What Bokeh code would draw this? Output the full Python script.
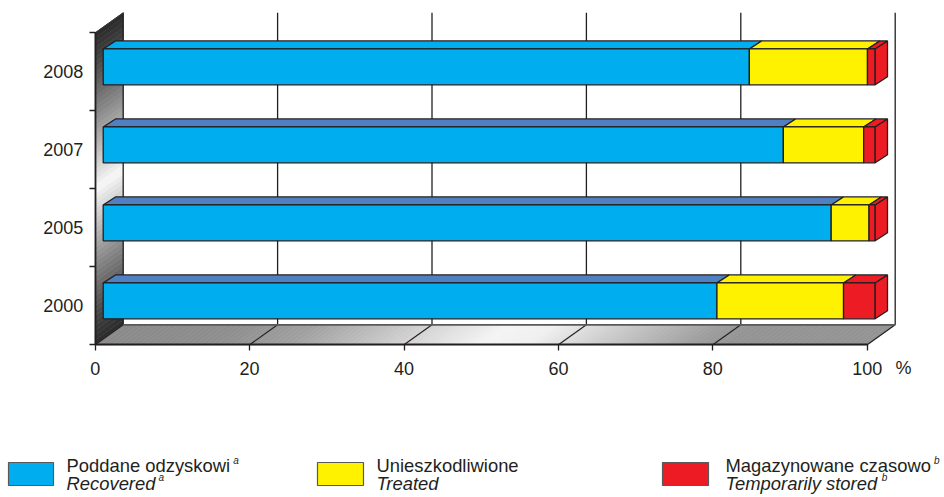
import numpy as np
from bokeh.plotting import figure
from bokeh.models import Range1d, LinearAxis, FixedTicker
from bokeh.core.properties import value
from bokeh.embed import file_html
from bokeh.resources import INLINE

# ---------------- data ----------------
years = ["2000", "2005", "2007", "2008"]
recovered = [79.5, 94.3, 88.1, 83.7]
treated = [16.4, 4.9, 10.4, 15.3]
stored = [4.1, 0.8, 1.5, 1.0]
x_ticks = [0, 20, 40, 60, 80, 100]
unit_label = "%"
legend_pl = ["Poddane odzyskowi", "Unieszkodliwione", "Magazynowane czasowo"]
legend_en = ["Recovered", "Treated", "Temporarily stored"]
legend_notes = ["a", "", "b"]

# ---------------- styles ----------------
front_colors = ["#00AEEF", "#FFF200", "#ED1C24"]
top_blue = ["#4F80C1", "#4F80C1", "#4F80C1", "#00AEEF"]
INK = "#231F20"
FONT_NAME = "Liberation Sans"
FONT = value(FONT_NAME)

W, H = 944, 497
S = 7.72      # px per percent
U = 78.0      # px per category band
X0 = 94.7     # px of x=0 from left of figure
Y0 = 344.3    # px of y=0 from top of figure
TXT_K = 0.42  # empirical baseline correction (fraction of font size)


def X(rx):
    return (rx - X0) / S


def Y(ry):
    return (Y0 - ry) / U


def YT(ry, size):
    # baseline position for text glyphs
    return Y(ry - TXT_K * size)


DX, DY = 28 / S, 20 / U                 # depth of the box
OX0, OY0 = 8 / S, 5.7 / U               # bar front face depth
OX1, OY1 = OX0 + 12.3 / S, OY0 + 8 / U  # bar back face depth
BAR_C, BAR_H = 0.49, 0.46
NCAT = len(years)

yr_start, yr_end = -(H - Y0) / U, Y0 / U
p = figure(width=W, height=H,
           x_range=Range1d(-X0 / S, (W - X0) / S),
           y_range=Range1d(yr_start, yr_end),
           output_backend="svg", toolbar_location=None,
           x_axis_location=None, y_axis_location=None,
           min_border=0, outline_line_color=None,
           background_fill_color="white", border_fill_color="white")
p.grid.grid_line_color = None
p.extra_y_ranges = {"years": Range1d(yr_start - 0.51, yr_end - 0.51)}


def gray(v):
    g = int(round(max(0, min(1, v)) * 255))
    return "#%02x%02x%02x" % (g, g, g)


# left wall gradient
N = 64
wx, wy, wc = [], [], []
for k in range(N):
    a, b = NCAT * k / N, NCAT * (k + 1) / N
    u = (k + 0.5) / N
    v = 0.17 + 0.80 * (1 - abs(2 * u - 1)) ** 1.2
    wx.append([0, 0, DX, DX])
    wy.append([a, b, b + DY, a + DY])
    wc.append(gray(v))
p.patches(wx, wy, fill_color=wc, line_color=wc, line_width=0.6)

# floor gradient
cp_x = [0, 15, 25, 40, 50, 56, 66, 78, 82, 100]
cp_g = [138, 142, 160, 212, 244, 240, 200, 156, 148, 148]
NF = 140
fx, fy, fc = [], [], []
for k in range(NF):
    a, b = 100 * k / NF, 100 * (k + 1) / NF
    g = np.interp((a + b) / 2, cp_x, cp_g) / 255
    fx.append([a, b, b + DX, a + DX])
    fy.append([0, 0, DY, DY])
    fc.append(gray(g))
p.patches(fx, fy, fill_color=fc, line_color=fc, line_width=0.6)

# back wall grid lines
gx = [t + DX for t in x_ticks]
p.segment(x0=gx, y0=[DY] * len(gx), x1=gx, y1=[NCAT + DY] * len(gx),
          line_color=INK, line_width=1.3)
# floor lines
p.segment(x0=x_ticks, y0=[0] * len(x_ticks), x1=gx, y1=[DY] * len(gx),
          line_color=INK, line_width=1.1)
p.segment(x0=[DX], y0=[DY], x1=[100 + DX], y1=[DY], line_color="#58595B", line_width=1.8)
p.segment(x0=[0], y0=[NCAT], x1=[DX], y1=[NCAT + DY], line_color="#333333", line_width=1.0)

# bars
series = [recovered, treated, stored]
top_x, top_y, top_c = [], [], []
fl, fr, fb, ft, fcol = [], [], [], [], []
sx, sy, sc = [], [], []
for i in range(NCAT):
    yb = i + BAR_C - BAR_H / 2
    yt = i + BAR_C + BAR_H / 2
    cum = 0.0
    for j, ser in enumerate(series):
        x0, x1 = cum, cum + ser[i]
        cum = x1
        top_x.append([x0 + OX0, x1 + OX0, x1 + OX1, x0 + OX1])
        top_y.append([yt + OY0, yt + OY0, yt + OY1, yt + OY1])
        top_c.append(top_blue[i] if j == 0 else front_colors[j])
        fl.append(x0 + OX0); fr.append(x1 + OX0)
        fb.append(yb + OY0); ft.append(yt + OY0)
        fcol.append(front_colors[j])
        if j == len(series) - 1:
            sx.append([x1 + OX0, x1 + OX1, x1 + OX1, x1 + OX0])
            sy.append([yb + OY0, yb + OY1, yt + OY1, yt + OY0])
            sc.append(front_colors[j])

p.patches(top_x, top_y, fill_color=top_c, line_color=INK, line_width=1.3)
p.quad(left=fl, right=fr, bottom=fb, top=ft, fill_color=fcol, line_color=INK, line_width=1.3)
p.patches(sx, sy, fill_color=sc, line_color=INK, line_width=1.3)

# axes
xaxis = LinearAxis(fixed_location=0, bounds=(0, 100),
                   ticker=FixedTicker(ticks=x_ticks, minor_ticks=[]),
                   major_tick_in=0, major_tick_out=6,
                   minor_tick_line_color=None,
                   axis_line_color=INK, axis_line_width=1.8,
                   major_tick_line_color=INK, major_tick_line_width=1.3,
                   major_label_text_font=FONT_NAME, major_label_text_font_size="18px",
                   major_label_text_color=INK, major_label_standoff=11)
p.add_layout(xaxis, "below")

ytick = LinearAxis(fixed_location=0, bounds=(0, NCAT),
                   ticker=FixedTicker(ticks=list(range(NCAT + 1)), minor_ticks=[]),
                   major_tick_in=0, major_tick_out=6,
                   minor_tick_line_color=None,
                   axis_line_color=INK, axis_line_width=1.8,
                   major_tick_line_color=INK, major_tick_line_width=1.3,
                   major_label_overrides={k: "" for k in range(NCAT + 1)},
                   major_label_text_font_size="1px")
p.add_layout(ytick, "left")

ylab = LinearAxis(y_range_name="years", fixed_location=0,
                  ticker=FixedTicker(ticks=list(range(NCAT)), minor_ticks=[]),
                  major_label_overrides={k: years[k] for k in range(NCAT)},
                  axis_line_color=None, major_tick_line_color=None,
                  minor_tick_line_color=None, major_tick_in=0, major_tick_out=0,
                  major_label_standoff=12,
                  major_label_text_font=FONT_NAME, major_label_text_font_size="18px",
                  major_label_text_color=INK)
p.add_layout(ylab, "left")

p.text(x=[X(903)], y=[YT(375, 18)], text=[unit_label], text_font=FONT,
       text_font_size="18px", text_color=INK, text_align="center",
       text_baseline="alphabetic")

# legend
AW = {" ": 278, "a": 556, "b": 556, "c": 500, "d": 556, "e": 556, "g": 556,
      "i": 222, "k": 500, "l": 222, "m": 833, "n": 556, "o": 556, "p": 556,
      "r": 333, "s": 500, "t": 278, "v": 500, "w": 722, "y": 500, "z": 500,
      "M": 833, "P": 667, "R": 722, "T": 611, "U": 722}


def tw(s, size):
    return sum(AW.get(c, 556) for c in s) * size / 1000.0


box_l = [8, 317, 662]
box_r = [53, 363, 708]
text_l = [66, 376, 725]
LEG_FS = 18.4
SUP_FS = 10
L1, L2 = 472.7, 490.5
p.quad(left=[X(v) for v in box_l], right=[X(v) for v in box_r],
       bottom=[Y(485)] * 3, top=[Y(462)] * 3,
       fill_color=front_colors, line_color="#58595B", line_width=1.2)
p.text(x=[X(v) for v in text_l], y=[YT(L1, LEG_FS)] * 3, text=legend_pl,
       text_font=FONT, text_font_size="%.1fpx" % LEG_FS, text_color=INK,
       text_baseline="alphabetic")
p.text(x=[X(v) for v in text_l], y=[YT(L2, LEG_FS)] * 3, text=legend_en,
       text_font=FONT, text_font_size="%.1fpx" % LEG_FS, text_font_style="italic",
       text_color=INK, text_baseline="alphabetic")
sup_x, sup_y, sup_t = [], [], []
for k in range(3):
    if legend_notes[k]:
        sup_x += [X(text_l[k] + tw(legend_pl[k], LEG_FS) + 3),
                  X(text_l[k] + tw(legend_en[k], LEG_FS) + 3)]
        sup_y += [YT(L1 - 9, SUP_FS), YT(L2 - 9, SUP_FS)]
        sup_t += [legend_notes[k], legend_notes[k]]
p.text(x=sup_x, y=sup_y, text=sup_t, text_font=FONT, text_font_size="%dpx" % SUP_FS,
       text_font_style="italic", text_color=INK, text_baseline="alphabetic")

open("out.html", "w").write(file_html(p, INLINE))
